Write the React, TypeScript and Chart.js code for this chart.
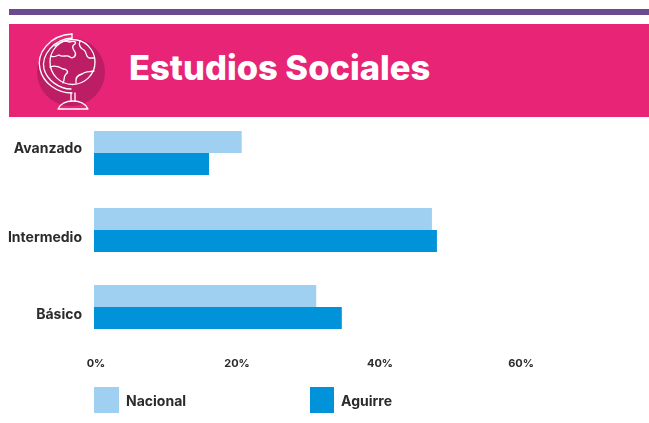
import React, { useEffect, useRef } from "react";
import { Chart, registerables } from "chart.js";

Chart.register(...registerables);

const categories = ["Avanzado", "Intermedio", "Básico"];
const nacional = [20.8, 47.6, 31.3];
const aguirre = [16.2, 48.3, 34.9];
const xTicks = [0, 20, 40, 60];
const seriesNames = ["Nacional", "Aguirre"];
const title = "Estudios Sociales";

const FONT = "Inter";
const INK = "#2b2b2b";
const yLabelShift = [-4, 8, 8];
const xLabelShift = [2, 1, 2, 1];
const legendX = [94, 310];

const labelsPlugin = {
  id: "labelsPlugin",
  afterDraw(chart: any) {
    const { ctx, scales } = chart;
    ctx.save();
    ctx.fillStyle = INK;
    ctx.textBaseline = "middle";
    ctx.font = `700 14px ${FONT}`;
    ctx.textAlign = "right";
    categories.forEach((c, i) => {
      ctx.fillText(c, 82, scales.y.getPixelForTick(i) + yLabelShift[i]);
    });
    ctx.font = `700 11px ${FONT}`;
    ctx.textAlign = "center";
    xTicks.forEach((t, i) => {
      ctx.fillText(`${t}%`, scales.x.getPixelForValue(t) + xLabelShift[i], 364);
    });
    ctx.textAlign = "left";
    ctx.font = `700 14px ${FONT}`;
    chart.data.datasets.forEach((d: any, i: number) => {
      ctx.fillStyle = d.backgroundColor;
      ctx.fillRect(legendX[i], 387, i === 0 ? 25 : 24, 26);
      ctx.fillStyle = INK;
      ctx.fillText(d.label, legendX[i] + (i === 0 ? 32 : 31), 402);
    });
    ctx.restore();
  },
};

function Globe() {
  const s = { fill: "none", stroke: "#fff", strokeWidth: 1.3, strokeLinejoin: "round" as const, strokeLinecap: "round" as const };
  return (
    <svg width="90" height="90" viewBox="0 0 90 90" style={{ position: "absolute", left: 25, top: 25 }}>
      <circle cx="46" cy="47" r="34" fill="#BC1D64" />
      <circle cx="47.5" cy="37" r="22.5" {...s} />
      <path d="M47 9 C25 10 11 28 15 44 C18 58 32 68 47 68" {...s} />
      <path d="M47 13 C29 14 16 30 19 44 C22 55 34 64 46 64" {...s} />
      <path d="M47 9 L47 13" {...s} />
      <path d="M30 21 C34 17 40 15 44 17 C48 16 52 16 50 19 C46 21 48 24 50 27 C52 31 48 34 45 32 C42 29 38 33 34 30 C31 31 28 33 26 31" {...s} />
      <path d="M55 16 C53 20 56 24 59 25 C62 27 60 31 64 33 L69 33" {...s} />
      <path d="M25 42 C30 40 35 42 38 44 C42 44 44 47 41 49 C38 52 40 55 38 58" {...s} />
      <path d="M51 58 C50 52 53 50 57 49 C60 46 65 47 69 46" {...s} />
      <path d="M46 68 L46 76 M50 68 L50 76" {...s} />
      <path d="M33 84 C35 79 41 76 48 76 C55 76 61 79 63 84 Z" {...s} />
    </svg>
  );
}

export default function App() {
  const ref = useRef<HTMLCanvasElement>(null);
  useEffect(() => {
    const chart = new Chart(ref.current!, {
      type: "bar",
      data: {
        labels: categories,
        datasets: [
          { label: seriesNames[0], data: nacional, backgroundColor: "#A0D0F1", borderWidth: 0 },
          { label: seriesNames[1], data: aguirre, backgroundColor: "#0093DA", borderWidth: 0 },
        ],
      },
      options: {
        indexAxis: "y",
        animation: false,
        responsive: false,
        devicePixelRatio: 1,
        layout: { padding: { top: 114.5, left: 0, right: 129, bottom: 77.5 } },
        datasets: { bar: { categoryPercentage: 0.5714, barPercentage: 1 } },
        plugins: { legend: { display: false }, tooltip: { enabled: false } },
        scales: {
          x: {
            min: 0,
            max: 60,
            border: { display: false },
            grid: { display: false },
            ticks: { display: false, stepSize: 20 },
            afterFit(scale: any) {
              scale.height = 0;
            },
          },
          y: {
            border: { display: false },
            grid: { display: false },
            ticks: { display: false },
            afterFit(scale: any) {
              scale.width = 94;
            },
          },
        },
      },
      plugins: [labelsPlugin],
    } as any);
    return () => chart.destroy();
  }, []);
  return (
    <div style={{ position: "absolute", left: 0, top: 0, width: 649, height: 423, background: "#fff", overflow: "hidden" }}>
      <div style={{ position: "absolute", left: 9, top: 9, width: 640, height: 6, background: "#6B4B90" }} />
      <div style={{ position: "absolute", left: 9, top: 24, width: 640, height: 93, background: "#E72476" }} />
      <Globe />
      <div style={{ position: "absolute", left: 129, top: 44, lineHeight: "48px", color: "#fff", fontFamily: FONT, fontWeight: 800, fontSize: 34.5, whiteSpace: "nowrap" }}>
        {title}
      </div>
      <canvas ref={ref} width={649} height={423} style={{ position: "absolute", left: 0, top: 0, width: 649, height: 423 }} />
    </div>
  );
}
